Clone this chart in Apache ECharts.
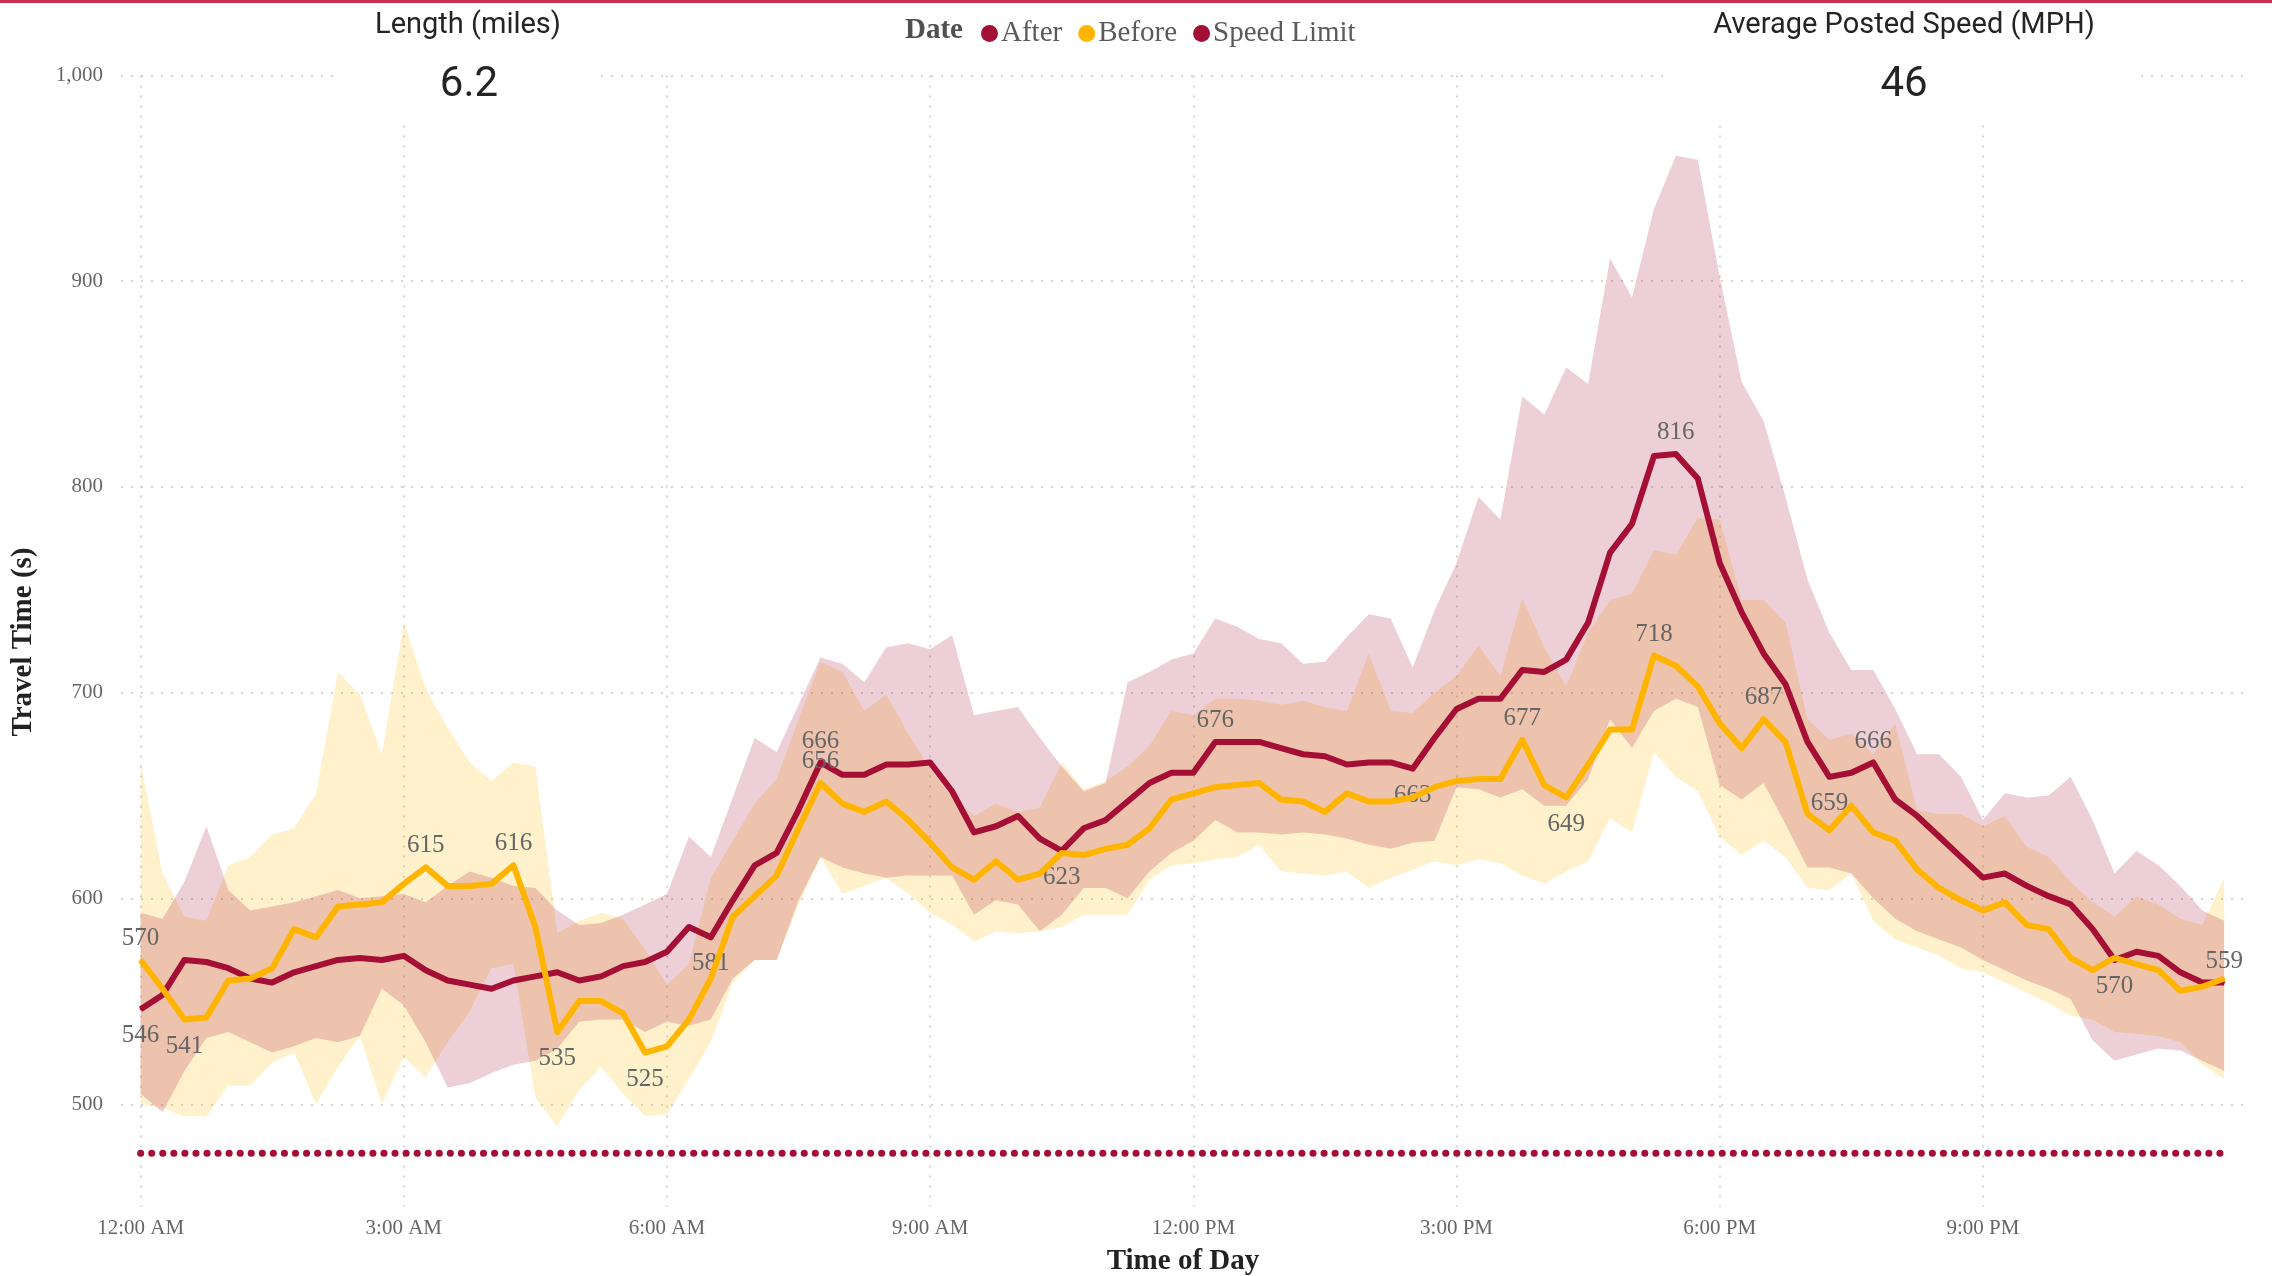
<!DOCTYPE html>
<html><head><meta charset="utf-8">
<script src="https://cdn.jsdelivr.net/npm/echarts@6/dist/echarts.min.js"></script>
<style>html,body{margin:0;padding:0;background:#fff}#c{width:2272px;height:1276px}</style>
</head><body><div id="c"></div>
<script>
// time of day in hours, 15-minute steps (12:00 AM .. 11:45 PM)
const hours = Array.from({length: 96}, (_, i) => i / 4);

const afterMean = [
  546,553,570,569,566,561,559,564,567,570,571,570,
  572,565,560,558,556,560,562,564,560,562,567,569,
  574,586,581,599,616,622,643,666,660,660,665,665,
  666,652,632,635,640,629,623,634,638,647,656,661,
  661,676,676,676,673,670,669,665,666,666,663,678,
  692,697,697,711,710,716,734,768,782,815,816,804,
  763,739,719,704,676,659,661,666,648,640,630,620,
  610,612,606,601,597,585,570,574,572,564,559,559];

const beforeMean = [
  570,556,541,542,560,561,566,585,581,596,597,598,
  607,615,606,606,607,616,586,535,550,550,544,525,
  528,541,561,591,601,611,634,656,646,642,647,638,
  627,615,609,618,609,612,622,621,624,626,634,648,
  651,654,655,656,648,647,642,651,647,647,649,654,
  657,658,658,677,655,649,665,682,682,718,713,703,
  685,673,687,676,641,633,645,632,628,614,605,599,
  594,598,587,585,571,565,571,568,565,555,557,561];

const afterUpper = [
  593,590,608,635,604,594,596,598,601,604,600,601,
  602,598,606,613,610,606,605,594,587,588,592,597,
  602,630,620,649,678,671,694,717,714,705,722,724,
  721,728,689,691,693,678,664,652,656,705,710,716,
  719,736,732,726,724,714,715,727,738,736,712,740,
  763,795,784,844,835,858,850,911,892,935,961,959,
  902,851,832,795,755,729,711,711,692,670,670,659,
  638,651,649,650,659,638,612,623,616,606,594,589];

const afterLower = [
  505,496,516,532,535,530,525,528,532,530,533,556,
  548,530,508,510,515,519,521,527,540,541,541,535,
  540,538,541,561,570,570,599,620,615,612,610,611,
  611,611,592,599,597,584,592,605,605,600,613,622,
  628,638,632,632,631,632,631,629,626,624,627,628,
  654,653,649,653,645,645,658,687,673,691,697,693,
  655,648,656,636,615,615,612,600,590,584,580,576,
  570,565,560,556,551,531,521,524,527,526,521,516];

const beforeUpper = [
  666,612,591,589,616,620,631,634,651,710,699,670,
  734,702,683,666,657,666,664,583,589,593,590,575,
  558,568,610,628,646,658,687,715,710,691,699,680,
  663,649,640,646,642,644,666,653,657,664,674,691,
  689,697,697,696,694,696,693,691,719,691,690,700,
  708,723,708,746,722,703,729,745,748,769,767,785,
  784,745,745,734,687,677,680,670,685,643,641,641,
  635,640,625,620,608,598,591,601,597,590,587,610];

const beforeLower = [
  500,498,494,494,509,509,520,525,500,518,533,500,
  523,513,530,545,566,568,503,489,507,518,505,494,
  495,512,530,559,570,570,597,620,602,606,610,602,
  593,587,579,584,583,584,586,592,592,592,609,616,
  617,619,620,626,613,612,611,613,605,610,614,618,
  616,619,617,611,607,613,618,639,632,671,659,652,
  630,621,628,620,605,604,612,589,580,576,572,566,
  564,559,554,549,543,541,535,534,533,530,519,512];

const speedLimitSeconds = 476;

// points that carry a data label in the reference
const afterLabelsAbove = [31, 49, 70, 79, 95];
const afterLabelsBelow = [0, 26, 42, 58, 77, 90];
const beforeLabelsAbove = [0, 13, 17, 31, 63, 69, 74];
const beforeLabelsBelow = [2, 19, 23, 65];

const xTickNames = {0:'12:00 AM',3:'3:00 AM',6:'6:00 AM',9:'9:00 AM',12:'12:00 PM',15:'3:00 PM',18:'6:00 PM',21:'9:00 PM'};

const CRIMSON = '#A50F35';
const GOLD = '#FFB400';
const SERIF = "'Liberation Serif', 'DejaVu Serif', serif";
const SANS = "Roboto, 'Noto Sans', sans-serif";

const labelBase = {show: true, color: '#666', fontFamily: SERIF, fontSize: 25,
  formatter: p => Math.round(p.value[1])};
function labelled(arr, above, below) {
  return arr.map((v, i) => {
    if (above.includes(i)) return {value: [hours[i], v], label: Object.assign({}, labelBase, {position: 'top', distance: 8})};
    if (below.includes(i)) return {value: [hours[i], v], label: Object.assign({}, labelBase, {position: 'bottom', distance: 13})};
    return [hours[i], v];
  });
}

function bandSeries(name, upper, lower, color) {
  return {
    name: name, type: 'custom', xAxisIndex: 1, yAxisIndex: 1, silent: true, z: 1,
    data: [[0, 500]],
    renderItem: function (params, api) {
      const top = upper.map((v, i) => api.coord([hours[i], v]));
      const bot = lower.map((v, i) => api.coord([hours[i], v])).reverse();
      return {type: 'polygon', shape: {points: top.concat(bot)}, style: {fill: color}};
    }
  };
}

const dotted = {type: [2, 8], color: '#c6c6c6', width: 1.5};

const chart = echarts.init(document.getElementById('c'), null, {renderer: 'canvas'});
chart.setOption({
  animation: false,
  backgroundColor: '#fff',
  grid: [
    {left: 121, right: 28, top: 75.4, bottom: 171.7},
    {left: 140.6, right: 25.9, top: 75.4, bottom: 69.2}
  ],
  xAxis: [
    {gridIndex: 0, type: 'value', min: 0, max: 1, show: false},
    {gridIndex: 1, type: 'value', min: 0, max: 24, interval: 3,
      axisLine: {show: false}, axisTick: {show: false},
      splitLine: {show: true, showMaxLine: false, lineStyle: dotted},
      axisLabel: {show: true, showMaxLabel: false, margin: 11, color: '#666', fontFamily: SERIF, fontSize: 21,
        formatter: v => xTickNames[v] || ''}}
  ],
  yAxis: [
    {gridIndex: 0, type: 'value', min: 500, max: 1000, interval: 100,
      axisLine: {show: false}, axisTick: {show: false},
      splitLine: {show: true, lineStyle: dotted},
      axisLabel: {margin: 18, color: '#666', fontFamily: SERIF, fontSize: 21,
        formatter: v => v.toLocaleString('en-US')}},
    {gridIndex: 1, type: 'value', min: 450, max: 1000, show: false, splitLine: {show: false}}
  ],
  legend: {
    left: 976, top: 14, itemWidth: 17, itemHeight: 17, itemGap: 16, icon: 'circle',
    selectedMode: false,
    textStyle: {fontFamily: SERIF, fontSize: 29, color: '#5a5a5a', padding: [0, 0, 0, -2]},
    data: [
      {name: 'After', itemStyle: {color: CRIMSON, borderWidth: 0}},
      {name: 'Before', itemStyle: {color: GOLD, borderWidth: 0}},
      {name: 'Speed Limit', itemStyle: {color: CRIMSON, borderWidth: 0}}
    ]
  },
  series: [
    bandSeries('beforeBand', beforeUpper, beforeLower, 'rgba(255,185,0,0.2)'),
    bandSeries('afterBand', afterUpper, afterLower, 'rgba(165,15,53,0.2)'),
    {name: 'Speed Limit', type: 'line', xAxisIndex: 1, yAxisIndex: 1, symbol: 'none', silent: true, z: 2,
      data: hours.map(h => [h, speedLimitSeconds]),
      lineStyle: {color: CRIMSON, width: 7, type: [0.1, 10.96], cap: 'round'}},
    {name: 'After', type: 'line', xAxisIndex: 1, yAxisIndex: 1, z: 3,
      symbol: 'circle', symbolSize: 2, showSymbol: true, showAllSymbol: true,
      data: labelled(afterMean, afterLabelsAbove, afterLabelsBelow),
      lineStyle: {color: CRIMSON, width: 6, join: 'round'}, itemStyle: {color: CRIMSON}},
    {name: 'Before', type: 'line', xAxisIndex: 1, yAxisIndex: 1, z: 4,
      symbol: 'circle', symbolSize: 2, showSymbol: true, showAllSymbol: true,
      data: labelled(beforeMean, beforeLabelsAbove, beforeLabelsBelow),
      lineStyle: {color: GOLD, width: 6, join: 'round'}, itemStyle: {color: GOLD}}
  ],
  graphic: [
    {type: 'rect', z: 100, shape: {x: 0, y: 0, width: 2272, height: 3}, style: {fill: '#C8324F'}},
    {type: 'rect', z: 100, shape: {x: 339, y: 4, width: 262, height: 114}, style: {fill: '#fff'}},
    {type: 'rect', z: 100, shape: {x: 1668, y: 4, width: 466, height: 114}, style: {fill: '#fff'}},
    {type: 'text', z: 101, x: 468, y: 26, style: {text: 'Length (miles)', font: '29px ' + SANS, fill: '#252423', align: 'center', verticalAlign: 'middle'}},
    {type: 'text', z: 101, x: 469, y: 85, style: {text: '6.2', font: '42px ' + SANS, fill: '#252423', align: 'center', verticalAlign: 'middle'}},
    {type: 'text', z: 101, x: 1904, y: 26, style: {text: 'Average Posted Speed (MPH)', font: '29px ' + SANS, fill: '#252423', align: 'center', verticalAlign: 'middle'}},
    {type: 'text', z: 101, x: 1904, y: 85, style: {text: '46', font: '42px ' + SANS, fill: '#252423', align: 'center', verticalAlign: 'middle'}},
    {type: 'text', z: 101, x: 905, y: 31, style: {text: 'Date', font: 'bold 29px ' + SERIF, fill: '#505050', align: 'left', verticalAlign: 'middle'}},
    {type: 'text', z: 101, x: 24, y: 642, rotation: Math.PI / 2, style: {text: 'Travel Time (s)', font: 'bold 29px ' + SERIF, fill: '#222', align: 'center', verticalAlign: 'middle'}},
    {type: 'text', z: 101, x: 1183, y: 1262, style: {text: 'Time of Day', font: 'bold 29px ' + SERIF, fill: '#222', align: 'center', verticalAlign: 'middle'}}
  ]
});
</script></body></html>
